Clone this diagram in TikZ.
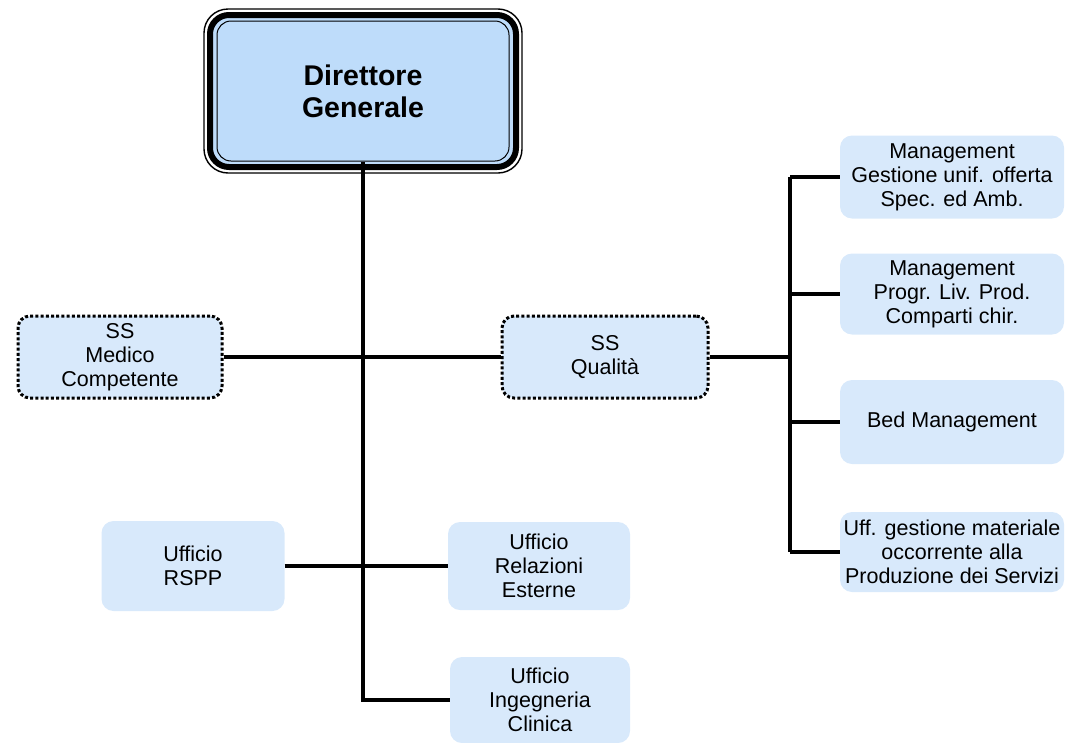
\documentclass[tikz,border=0pt]{standalone}
\usepackage{fontspec}
\setmainfont{Liberation Sans}
\usetikzlibrary{calc}
\definecolor{dgblue}{RGB}{190,220,250}
\definecolor{boxblue}{RGB}{216,233,251}
\tikzset{
  orgbox/.style={rectangle, rounded corners=12pt, fill=boxblue, draw=none, align=center, inner sep=0pt,
    font=\fontsize{21.5}{24}\selectfont},
  ssbox/.style={orgbox, draw=black, line width=3pt, dash pattern=on 3pt off 2.2pt},
  link/.style={draw=black, line width=3.2pt},
}
\begin{document}
\begin{tikzpicture}[x=1pt,y=-1pt]
\useasboundingbox (0,0) rectangle (1066,742);
% frames of the top box
\draw[line width=1.4pt, rounded corners=24pt, fill=white] (204,9) rectangle (522,173);
\draw[line width=6pt, rounded corners=19pt, fill=dgblue] (210,15) rectangle (516,167);
\node[rectangle, rounded corners=14pt, fill=dgblue, draw=black, line width=1pt, inner sep=0pt,
  minimum width=292pt, minimum height=140pt, align=center,
  font=\bfseries\fontsize{28.5}{32}\selectfont] (dg) at (363,91) {Direttore\\Generale};

\node[ssbox, minimum width=204pt, minimum height=82pt] (smc) at (120,357) {SS\\Medico\\Competente};
\node[ssbox, minimum width=206pt, minimum height=82pt] (qual) at (605,357) {SS\\Qualità};

\node[orgbox, minimum width=224pt, minimum height=83pt] (m1) at (952,177) {Management\\Gestione unif. offerta\\Spec. ed Amb.};
\node[orgbox, minimum width=224pt, minimum height=81pt] (m2) at (952,294) {Management\\Progr. Liv. Prod.\\Comparti chir.};
\node[orgbox, minimum width=224pt, minimum height=84pt] (m3) at (952,422) {Bed Management};
\node[orgbox, minimum width=224pt, minimum height=80pt] (m4) at (952,552) {Uff. gestione materiale\\occorrente alla\\Produzione dei Servizi};

\node[orgbox, minimum width=183pt, minimum height=90pt] (rspp) at (193,566) {Ufficio\\RSPP};
\node[orgbox, minimum width=182pt, minimum height=88pt] (rel) at (539,566) {Ufficio\\Relazioni\\Esterne};
\node[orgbox, minimum width=180pt, minimum height=86pt] (icl) at (540,700) {Ufficio\\Ingegneria\\Clinica};

\coordinate (rj) at (790,357);

\draw[link] (dg.south) -- (dg.south |- icl.west) -- (icl.west);
\draw[link] (smc.east) -- (qual.west);
\draw[link] (rspp.east) -- (rel.west);
\draw[link] (qual.east) -- (rj);
\draw[link] (rj |- m1.west) -- (rj |- m4.west);
\draw[link] (rj |- m1.west) -- (m1.west);
\draw[link] (rj |- m2.west) -- (m2.west);
\draw[link] (rj |- m3.west) -- (m3.west);
\draw[link] (rj |- m4.west) -- (m4.west);
\end{tikzpicture}
\end{document}
